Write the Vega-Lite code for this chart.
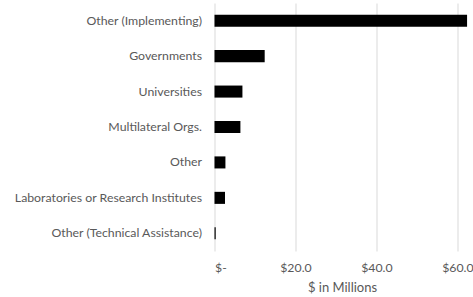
{
  "$schema": "https://vega.github.io/schema/vega-lite/v6.json",
  "autosize": {"type": "none"},
  "padding": {"left": 214.5, "top": 3, "right": 3, "bottom": 46},
  "width": 255,
  "height": 248,
  "background": "white",
  "config": {
    "view": {"stroke": null},
    "font": "Lato"
  },
  "data": {
    "values": [
      {"category": "Other (Implementing)", "value": 62.4},
      {"category": "Governments", "value": 12.4},
      {"category": "Universities", "value": 6.9},
      {"category": "Multilateral Orgs.", "value": 6.4},
      {"category": "Other", "value": 2.7},
      {"category": "Laboratories or Research Institutes", "value": 2.6},
      {"category": "Other (Technical Assistance)", "value": 0.3}
    ]
  },
  "mark": {"type": "bar", "color": "#000000"},
  "encoding": {
    "y": {
      "field": "category",
      "type": "nominal",
      "sort": null,
      "scale": {"paddingInner": 0.66, "paddingOuter": 0.33},
      "axis": {
        "title": null,
        "domain": false,
        "ticks": false,
        "labelPadding": 13,
        "labelFontSize": 12.3,
        "labelColor": "#595959",
        "labelLimit": 300
      }
    },
    "x": {
      "field": "value",
      "type": "quantitative",
      "scale": {"domain": [0, 63], "nice": false},
      "axis": {
        "title": "$ in Millions",
        "titleFontSize": 13,
        "titleFontWeight": "normal",
        "titleColor": "#595959",
        "titlePadding": 8,
        "values": [0, 20, 40, 60],
        "labelExpr": "datum.value == 0 ? '$-' : '$' + format(datum.value, '.1f')",
        "labelFontSize": 12.3,
        "labelColor": "#595959",
        "labelPadding": 10,
        "domain": false,
        "ticks": false,
        "grid": true,
        "gridColor": "#d9d9d9",
        "gridWidth": 1
      }
    }
  }
}
